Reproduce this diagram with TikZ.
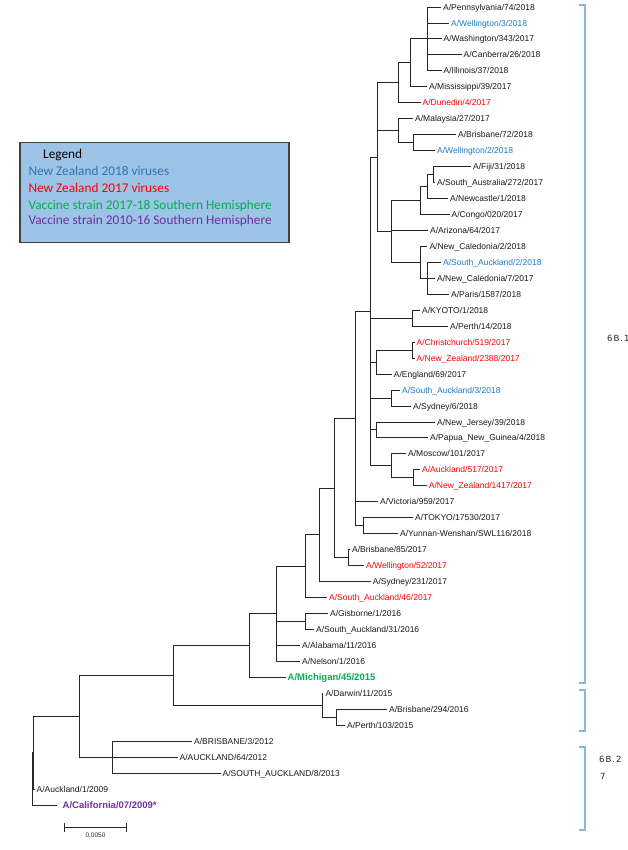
\documentclass[tikz,border=0pt]{standalone}
\usepackage{fontspec}
\setmainfont{Liberation Sans}
\newfontfamily\legendfont{Carlito}
\newfontfamily\cladefont[LetterSpace=12]{DejaVu Sans}
\definecolor{nzblue}{HTML}{1F78C8}
\definecolor{nzred}{HTML}{FF0000}
\definecolor{vacgreen}{HTML}{00B050}
\definecolor{vacpurple}{HTML}{7030A0}
\definecolor{legfill}{HTML}{9DC3E6}
\definecolor{legblue}{HTML}{2E75B6}
\definecolor{brack}{HTML}{8FB4DE}
\tikzset{
 branch/.style={line width=0.9pt, draw=black!85},
 leaf/.style={anchor=west, inner xsep=2pt, inner ysep=0pt, font=\fontsize{8.5}{10}\selectfont, text height=6.1pt, text depth=0pt, text=black!90},
 nzb/.style={text=nzblue},
 nzr/.style={text=nzred},
 vacg/.style={text=vacgreen, font=\fontsize{9.5}{11}\selectfont\bfseries, text height=6.8pt},
 vacp/.style={text=vacpurple, font=\fontsize{9.5}{11}\selectfont\bfseries, text height=6.8pt, inner xsep=5.5pt},
 legtext/.style={anchor=west, inner sep=0pt, font=\legendfont\fontsize{13.3}{16}\selectfont, text height=8.6pt, text depth=0pt},
 cladelab/.style={anchor=west, inner sep=0pt, font=\cladefont\fontsize{8.5}{10}\selectfont, text=black!85},
 bracket/.style={draw=brack, line width=1.1pt},
}
\newcommand{\lf}[5]{\node[leaf,#4] (#1) at (#3,#2) {#5};}
\begin{document}
\begin{tikzpicture}
\path[use as bounding box] (0pt,0pt) rectangle (628pt,-850pt);
\begin{scope}[x=1pt,y=-15.96pt,yshift=-7pt]
% leaves
\lf{l0}{0}{441}{}{A/Pennsylvania/74/2018}
\lf{l1}{1}{449}{nzb}{A/Wellington/3/2018}
\lf{l2}{2}{441.5}{}{A/Washington/343/2017}
\lf{l3}{3}{461.5}{}{A/Canberra/26/2018}
\lf{l4}{4}{441.5}{}{A/Illinois/37/2018}
\lf{l5}{5}{427}{}{A/Mississippi/39/2017}
\lf{l6}{6}{420.5}{nzr}{A/Dunedin/4/2017}
\lf{l7}{7}{413}{}{A/Malaysia/27/2017}
\lf{l8}{8}{456}{}{A/Brisbane/72/2018}
\lf{l9}{9}{435}{nzb}{A/Wellington/2/2018}
\lf{l10}{10}{471}{}{A/Fiji/31/2018}
\lf{l11}{11}{435}{}{A/South\_Australia/272/2017}
\lf{l12}{12}{448}{}{A/Newcastle/1/2018}
\lf{l13}{13}{449.5}{}{A/Congo/020/2017}
\lf{l14}{14}{428}{}{A/Arizona/64/2017}
\lf{l15}{15}{427.3}{}{A/New\_Caledonia/2/2018}
\lf{l16}{16}{441}{nzb}{A/South\_Auckland/2/2018}
\lf{l17}{17}{435}{}{A/New\_Caledonia/7/2017}
\lf{l18}{18}{449}{}{A/Paris/1587/2018}
\lf{l19}{19}{420}{}{A/KYOTO/1/2018}
\lf{l20}{20}{448}{}{A/Perth/14/2018}
\lf{l21}{21}{414.5}{nzr}{A/Christchurch/519/2017}
\lf{l22}{22}{414.5}{nzr}{A/New\_Zealand/2388/2017}
\lf{l23}{23}{391.7}{}{A/England/69/2017}
\lf{l24}{24}{400}{nzb}{A/South\_Auckland/3/2018}
\lf{l25}{25}{411}{}{A/Sydney/6/2018}
\lf{l26}{26}{435}{}{A/New\_Jersey/39/2018}
\lf{l27}{27}{428}{}{A/Papua\_New\_Guinea/4/2018}
\lf{l28}{28}{406}{}{A/Moscow/101/2017}
\lf{l29}{29}{420}{nzr}{A/Auckland/517/2017}
\lf{l30}{30}{426.7}{nzr}{A/New\_Zealand/1417/2017}
\lf{l31}{31}{378}{}{A/Victoria/959/2017}
\lf{l32}{32}{413}{}{A/TOKYO/17530/2017}
\lf{l33}{33}{398}{}{A/Yunnan-Wenshan/SWL116/2018}
\lf{l34}{34}{350}{}{A/Brisbane/85/2017}
\lf{l35}{35}{364}{nzr}{A/Wellington/52/2017}
\lf{l36}{36}{370.7}{}{A/Sydney/231/2017}
\lf{l37}{37}{327}{nzr}{A/South\_Auckland/46/2017}
\lf{l38}{38}{328}{}{A/Gisborne/1/2016}
\lf{l39}{39}{314}{}{A/South\_Auckland/31/2016}
\lf{l40}{40}{300}{}{A/Alabama/11/2016}
\lf{l41}{41}{300}{}{A/Nelson/1/2016}
\lf{l42}{42}{285.5}{vacg}{A/Michigan/45/2015}
\lf{l43}{43}{323.3}{}{A/Darwin/11/2015}
\lf{l44}{44}{387}{}{A/Brisbane/294/2016}
\lf{l45}{45}{345}{}{A/Perth/103/2015}
\lf{l46}{46}{192}{}{A/BRISBANE/3/2012}
\lf{l47}{47}{177.5}{}{A/AUCKLAND/64/2012}
\lf{l48}{48}{220.5}{}{A/SOUTH\_AUCKLAND/8/2013}
\lf{l49}{49}{34.5}{}{A/Auckland/1/2009}
\lf{l50}{50}{57}{vacp}{A/California/07/2009*}
% internal nodes
\coordinate (A) at (427.5,2);
\coordinate (B) at (410,3.5);
\coordinate (C) at (398,4.75);
\coordinate (F) at (413,8.5);
\coordinate (E) at (398,7.75);
\coordinate (H) at (433.5,10.5);
\coordinate (I) at (427,11.25);
\coordinate (J) at (420,12.125);
\coordinate (L) at (427,17);
\coordinate (K) at (420,16);
\coordinate (G) at (391.5,14.0625);
\coordinate (D) at (377,9.40625);
\coordinate (KY) at (412.7,19.5);
\coordinate (CH) at (412.7,21.5);
\coordinate (CE) at (376.7,22.25);
\coordinate (S3) at (391,24.5);
\coordinate (NJ) at (376.7,26.5);
\coordinate (AK) at (413.3,29.5);
\coordinate (MO) at (391,28.75);
\coordinate (M) at (370,19.078);
\coordinate (TK) at (363.3,32.5);
\coordinate (N) at (355,25.789);
\coordinate (BW) at (348.3,34.5);
\coordinate (O) at (334,30.145);
\coordinate (P) at (319.3,33.072);
\coordinate (Q) at (305,35.036);
\coordinate (GS) at (305,38.5);
\coordinate (R) at (276.7,38.018);
\coordinate (S) at (249,40.009);
\coordinate (BP) at (336,44.5);
\coordinate (DB) at (322.3,43.75);
\coordinate (T) at (173.3,41.88);
\coordinate (V) at (112.3,47);
\coordinate (U) at (79.3,44.44);
\coordinate (W) at (33.3,46.72);
\coordinate (X) at (32.3,48.36);
% branches to leaves
\foreach \p/\c in {A/l0,A/l1,A/l2,A/l3,A/l4,B/l5,C/l6,E/l7,F/l8,F/l9,H/l10,H/l11,I/l12,J/l13,G/l14,K/l15,L/l16,L/l17,L/l18,KY/l19,KY/l20,CH/l21,CH/l22,CE/l23,S3/l24,S3/l25,NJ/l26,NJ/l27,MO/l28,AK/l29,AK/l30,N/l31,TK/l32,TK/l33,BW/l34,BW/l35,P/l36,Q/l37,GS/l38,GS/l39,R/l40,R/l41,S/l42,DB/l43,BP/l44,BP/l45,V/l46,V/l47,V/l48,W/l49,X/l50}
  \draw[branch] (\p) |- (\c.west);
% internal branches
\foreach \p/\c in {B/A,C/B,E/F,I/H,J/I,K/L,G/J,G/K,D/C,D/E,D/G,CE/CH,MO/AK,M/D,M/KY,M/CE,M/S3,M/NJ,M/MO,N/M,N/TK,O/N,O/BW,P/O,Q/P,R/Q,R/GS,S/R,DB/BP,T/S,T/DB,U/T,U/V,W/U,X/W}
  \draw[branch] (\p) |- (\c);
\end{scope}
\begin{scope}[x=1pt,y=-1pt]
% legend
\node[draw=black!75, line width=1.2pt, fill=legfill, minimum width=269pt, minimum height=100pt, anchor=north west, inner sep=0pt] (legend) at (19.3,141.7) {};
\node[legtext, text=black] (lg0) at (43,154) {Legend};
\node[legtext, text=legblue] (lg1) at (28.3,171.7) {New Zealand 2018 viruses};
\node[legtext, text=nzred] (lg2) at (28.3,188.5) {New Zealand 2017 viruses};
\node[legtext, text=vacgreen] (lg3) at (28.3,205) {Vaccine strain 2017-18 Southern Hemisphere};
\node[legtext, text=vacpurple] (lg4) at (28.3,220.7) {Vaccine strain 2010-16 Southern Hemisphere};
% clade brackets
\draw[bracket] (579,5) -- (585,5) -- (585,683) -- (579,683);
\draw[bracket] (579,690) -- (585,690) -- (585,731) -- (579,731);
\draw[bracket] (579,747) -- (585,747) -- (585,830) -- (579,830);
\node[cladelab] (c1) at (607,338) {6B.1};
\node[cladelab] (c2) at (599,759) {6B.2};
\node[cladelab] (c3) at (600,776) {7};
% scale bar
\draw[line width=0.8pt, black!85] (64.3,827.3) -- (126,827.3);
\draw[line width=0.8pt, black!85] (64.3,823) -- (64.3,831.5);
\draw[line width=0.8pt, black!85] (126,823) -- (126,831.5);
\node[inner sep=0pt, font=\fontsize{6.5}{8}\selectfont, text=black!85] (sb) at (95.5,835.5) {0.0050};
\end{scope}
\end{tikzpicture}
\end{document}
